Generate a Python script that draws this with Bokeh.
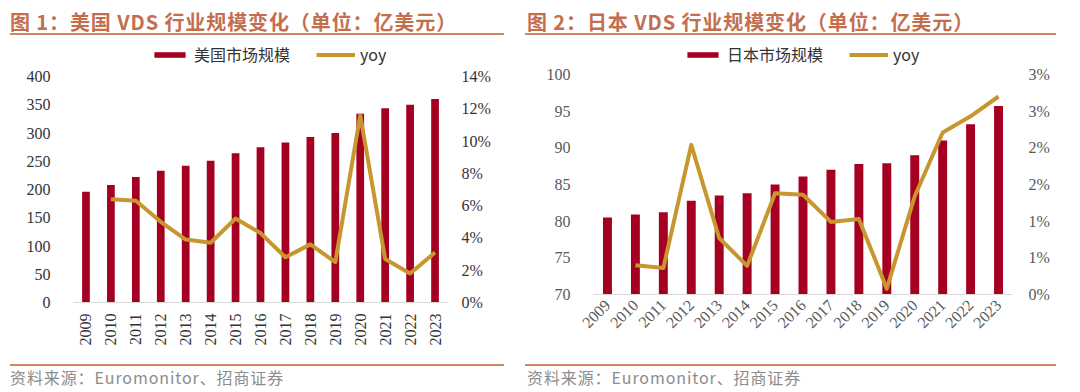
import math
from bokeh.plotting import figure
from bokeh.models import (ColumnDataSource, FactorRange, Range1d, LinearAxis, FixedTicker,
                          Legend, LegendItem, Div, Spacer)
from bokeh.layouts import row, column
from bokeh.embed import file_html
from bokeh.resources import INLINE

# ---------------- data ----------------
years = ["2009", "2010", "2011", "2012", "2013", "2014", "2015", "2016",
         "2017", "2018", "2019", "2020", "2021", "2022", "2023"]

us_size = [196, 208, 222, 233, 242, 251, 264, 275, 283, 293, 300, 334, 344, 350, 360]
us_yoy = [None, 6.4, 6.3, 5.0, 3.9, 3.7, 5.2, 4.3, 2.8, 3.6, 2.5, 11.6, 2.7, 1.8, 3.1]

jp_size = [80.5, 80.9, 81.2, 82.8, 83.5, 83.8, 85.0, 86.1, 87.0, 87.8, 87.9, 89.0, 91.0, 93.2, 95.7]
jp_yoy = [None, 0.40, 0.36, 2.04, 0.77, 0.39, 1.38, 1.36, 0.99, 1.03, 0.08, 1.34, 2.21, 2.43, 2.70]

us_left_ticks = [0, 50, 100, 150, 200, 250, 300, 350, 400]
us_right_ticks = [0, 2, 4, 6, 8, 10, 12, 14]
us_right_labels = ["0%", "2%", "4%", "6%", "8%", "10%", "12%", "14%"]

jp_left_ticks = [70, 75, 80, 85, 90, 95, 100]
jp_right_ticks = [0, 0.5, 1.0, 1.5, 2.0, 2.5, 3.0]
jp_right_labels = ["0%", "1%", "1%", "2%", "2%", "3%", "3%"]

title1 = "图 1：美国 VDS 行业规模变化（单位：亿美元）"
title2 = "图 2：日本 VDS 行业规模变化（单位：亿美元）"
legend1 = "美国市场规模"
legend2 = "日本市场规模"
source_text = "资料来源：Euromonitor、招商证券"

# ---------------- style ----------------
BAR = "#a50021"
LINE = "#c8962e"
TITLE_C = "#c46e4e"
RULE_C = "#d08466"
SRC_C = "#8c8c8c"
AX_FONT = "Liberation Serif"
CJK = "Noto Sans CJK SC"


def make_chart(size, yoy, left_ticks, yr, right_ticks, right_labels, rr, bar_label,
               width, height, mb, axis_px, bar_w, label_color, orient, x_standoff,
               l_standoff, r_standoff, leg_loc):
    # the frame reaches up to the legend row; the axis span (yr) covers axis_px pixels
    frame_h = height - mb[2] - mb[3]
    k = frame_h / axis_px
    y_end = yr[0] + (yr[1] - yr[0]) * k
    r_end = rr[0] + (rr[1] - rr[0]) * k

    src = ColumnDataSource(dict(
        year=years, size=size,
        yoy=[float("nan") if v is None else v for v in yoy]))
    p = figure(x_range=FactorRange(*years), y_range=Range1d(yr[0], y_end),
               width=width, height=height, output_backend="svg",
               toolbar_location=None, tools="")
    p.min_border_left, p.min_border_right, p.min_border_top, p.min_border_bottom = mb
    p.outline_line_color = None
    p.xgrid.visible = False
    p.ygrid.visible = False
    p.background_fill_color = "white"
    p.border_fill_color = "white"

    bars = p.vbar(x="year", top="size", bottom=0, width=bar_w, source=src,
                  fill_color=BAR, line_color=None)
    p.extra_y_ranges = {"yoy": Range1d(rr[0], r_end)}
    ln = p.line(x="year", y="yoy", source=src, y_range_name="yoy",
                line_color=LINE, line_width=4, line_join="round")

    xa = p.below[0]
    xa.axis_line_color = "#d9d9d9"
    xa.axis_line_width = 1
    xa.major_tick_line_color = None
    xa.minor_tick_line_color = None
    xa.major_tick_out = 0
    xa.major_tick_in = 0
    xa.major_label_orientation = orient
    xa.major_label_standoff = x_standoff
    xa.major_label_text_font = AX_FONT
    xa.major_label_text_font_size = "16px"
    xa.major_label_text_color = label_color

    ya = p.left[0]
    ya.ticker = FixedTicker(ticks=left_ticks)
    ya.axis_line_color = None
    ya.major_tick_line_color = None
    ya.minor_tick_line_color = None
    ya.major_tick_out = 0
    ya.major_tick_in = 0
    ya.major_label_standoff = l_standoff
    ya.major_label_text_font = AX_FONT
    ya.major_label_text_font_size = "16px"
    ya.major_label_text_color = label_color

    ra = LinearAxis(y_range_name="yoy", ticker=FixedTicker(ticks=right_ticks),
                    major_label_overrides=dict(zip(right_ticks, right_labels)))
    ra.axis_line_color = None
    ra.major_tick_line_color = None
    ra.minor_tick_line_color = None
    ra.major_tick_out = 0
    ra.major_tick_in = 0
    ra.major_label_standoff = r_standoff
    ra.major_label_text_font = AX_FONT
    ra.major_label_text_font_size = "16px"
    ra.major_label_text_color = label_color
    p.add_layout(ra, "right")

    legend = Legend(items=[LegendItem(label=bar_label, renderers=[bars]),
                           LegendItem(label="yoy", renderers=[ln])],
                    location=leg_loc, orientation="horizontal", padding=0, margin=0,
                    spacing=26, label_standoff=5, glyph_width=39, glyph_height=7,
                    label_height=16, border_line_color=None, background_fill_alpha=0,
                    label_text_font=CJK, label_text_font_size="16px",
                    label_text_color="#333333")
    p.add_layout(legend, "center")
    return p


def title_div(text, w, pl):
    html = (f'<div style="width:{w - pl}px;height:27px;line-height:27px;'
            f'border-bottom:2px solid {RULE_C};color:{TITLE_C};letter-spacing:0.9px;'
            f"font-family:'{CJK}';font-weight:700;font-size:20px;white-space:nowrap;"
            f'padding-left:{pl}px;margin:0;">{text}</div>')
    return Div(text=html, width=w, height=29, margin=0)


def source_div(text, w, pl):
    html = (f'<div style="width:{w - pl}px;height:18px;line-height:18px;'
            f'border-top:2px solid {RULE_C};color:{SRC_C};padding-top:2px;'
            f"font-family:'{CJK}';font-size:16px;white-space:nowrap;letter-spacing:0.9px;"
            f'padding-left:{pl}px;margin:0;">{text}</div>')
    return Div(text=html, width=w, height=22, margin=0)


p1 = make_chart(us_size, us_yoy, us_left_ticks, (0, 400), us_right_ticks, us_right_labels,
                (0, 14), legend1, 494, 327, (63, 57, 3, 62), 226, 0.31, "#333333",
                math.pi / 2, 11, 23, 14, (77, 236))
p2 = make_chart(jp_size, jp_yoy, jp_left_ticks, (70, 100), jp_right_ticks, jp_right_labels,
                (0, 3), legend2, 533, 327, (68, 46, 3, 70), 220, 0.32, "#595959",
                math.pi / 4, 8, 23, 16, (90, 228))

col1 = column(title_div(title1, 494, 0), p1, source_div(source_text, 494, 0))
col2 = column(title_div(title2, 533, 2), p2, source_div(source_text, 533, 2))
layout = column(Spacer(width=10, height=8),
                row(Spacer(width=10, height=10), col1, Spacer(width=21, height=10), col2))

open("out.html", "w").write(file_html(layout, INLINE))
